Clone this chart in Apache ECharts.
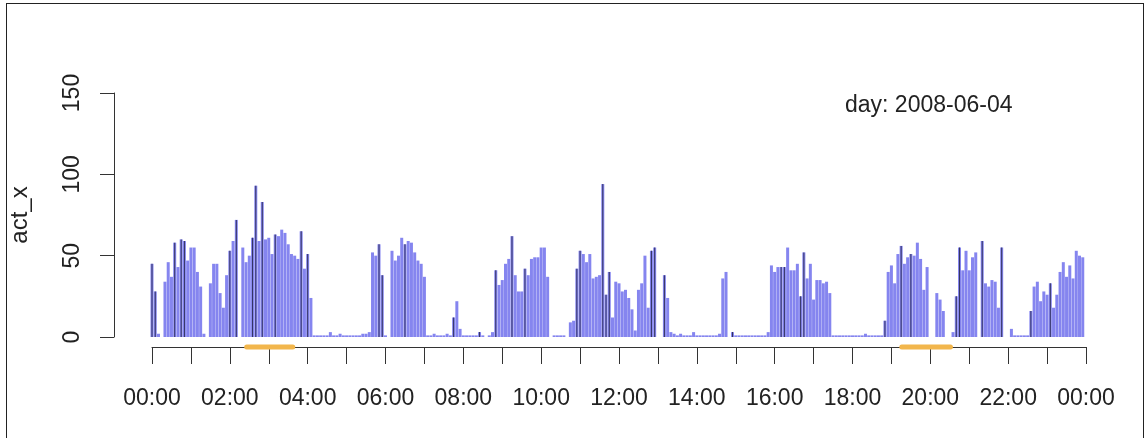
<!DOCTYPE html>
<html>
<head>
<meta charset="utf-8">
<script src="https://cdn.jsdelivr.net/npm/echarts@6/dist/echarts.min.js"></script>
<style>
  html, body { margin: 0; padding: 0; background: #fff; }
  #main { width: 1147px; height: 438px; }
  #frame {
    position: absolute; left: 6px; top: 3px; width: 1136px; height: 460px;
    border-top: 1px solid #222; border-left: 1px solid #222; border-right: 1px solid #222;
    pointer-events: none;
  }
</style>
</head>
<body>
<div id="main"></div>
<div id="frame"></div>
<script>
// act_x in 5-minute bins, one array per 6 hours
var act00to06 = [45, 28, 2, 0, 34, 46, 37, 58, 43, 60, 59, 47, 55, 55, 40, 31, 2, 0, 33, 45, 45, 27, 18, 38,
  53, 59, 72, 0, 55, 46, 50, 61, 93, 59, 83, 60, 61, 51, 63, 62, 66, 64, 57, 51, 50, 48, 65, 42,
  51, 24, 1, 1, 1, 1, 1, 3, 1, 1, 2, 1, 1, 1, 1, 1, 1, 2, 2, 3, 52, 50, 57, 38];
var act06to12 = [1, 0, 53, 47, 50, 61, 57, 59, 58, 52, 47, 45, 37, 1, 1, 2, 1, 1, 1, 2, 1, 12, 22, 5,
  1, 1, 1, 1, 1, 3, 1, 0, 1, 3, 41, 32, 35, 45, 48, 62, 38, 28, 28, 42, 38, 48, 49, 49,
  55, 55, 37, 0, 1, 1, 1, 1, 0, 9, 10, 42, 53, 51, 46, 51, 36, 37, 38, 94, 26, 40, 12, 34];
var act12to18 = [33, 28, 29, 24, 17, 4, 29, 33, 50, 18, 53, 55, 0, 0, 38, 24, 3, 2, 1, 2, 1, 1, 1, 3,
  1, 1, 1, 1, 1, 1, 1, 2, 36, 40, 0, 3, 1, 1, 1, 1, 1, 1, 1, 1, 1, 1, 3, 44,
  40, 43, 43, 43, 55, 41, 41, 45, 25, 52, 36, 45, 23, 35, 35, 33, 34, 27, 1, 1, 1, 1, 1, 1];
var act18to24 = [1, 1, 1, 1, 2, 1, 1, 1, 1, 1, 10, 40, 44, 33, 51, 56, 45, 49, 51, 50, 58, 48, 29, 43,
  0, 0, 27, 23, 16, 0, 0, 3, 25, 55, 41, 53, 41, 49, 52, 0, 59, 33, 31, 35, 34, 18, 55, 0,
  0, 5, 1, 1, 1, 1, 1, 16, 31, 34, 22, 28, 26, 33, 18, 26, 40, 46, 37, 44, 36, 53, 50, 49];
// bins drawn with a dark stroke
var darkBins = [0, 1, 7, 9, 10, 24, 26, 31, 32, 34, 38, 46, 48, 70, 71, 78, 93, 101, 106, 111, 115,
  131, 132, 139, 140, 141, 154, 155, 158, 179, 194, 195, 200, 201, 226, 231, 234, 248, 249,
  256, 262, 271, 277];
// highlighted periods (start, end) in hh:mm
var periods = [['02:26', '03:37'], ['19:16', '20:31']];
var dayLabel = '2008-06-04';

var binMinutes = 5;
var actValues = act00to06.concat(act06to12, act12to18, act18to24);

function toMinutes(s) {
  var p = s.split(':');
  return (+p[0]) * 60 + (+p[1]);
}
function pad(n) { return (n < 10 ? '0' : '') + n; }

var barData = actValues.map(function (v, i) { return [i * binMinutes, v]; });
var darkData = darkBins.map(function (i) { return [i * binMinutes, actValues[i]]; });

var font = "'Liberation Sans', Arial, sans-serif";
var axisColor = '#333';

var series = [
  {
    name: 'act_x',
    type: 'bar',
    data: barData,
    barWidth: 3,
    itemStyle: { color: '#8585ef' },
    silent: true
  },
  {
    name: 'act_x dark',
    type: 'bar',
    xAxisIndex: 1,
    data: darkData,
    barWidth: 1,
    itemStyle: { color: '#33335f' },
    silent: true
  }
];
periods.forEach(function (p) {
  series.push({
    type: 'line',
    data: [[toMinutes(p[0]), -6.1], [toMinutes(p[1]), -6.1]],
    symbol: 'none',
    clip: false,
    z: 5,
    lineStyle: { color: '#f2b64c', width: 5, cap: 'round' },
    silent: true
  });
});

var chart = echarts.init(document.getElementById('main'));
chart.setOption({
  animation: false,
  backgroundColor: '#fff',
  title: {
    text: 'day: ' + dayLabel,
    left: 845,
    top: 94,
    padding: 0,
    textStyle: { fontFamily: font, fontSize: 23, fontWeight: 'normal', color: '#222' }
  },
  grid: { left: 150, right: 61, top: 93, bottom: 101 },
  xAxis: [
    {
      type: 'value',
      min: 0,
      max: 1440,
      interval: 60,
      offset: 10,
      axisLine: { onZero: false, lineStyle: { color: axisColor, width: 1 } },
      axisTick: { length: 17, lineStyle: { color: axisColor } },
      splitLine: { show: false },
      axisLabel: {
        margin: 40,
        fontFamily: font,
        fontSize: 23,
        color: '#222',
        showMinLabel: true,
        showMaxLabel: true,
        formatter: function (v) {
          if (v % 120 !== 0) return '';
          return pad((v / 60) % 24) + ':00';
        }
      }
    },
    { type: 'value', min: 0, max: 1440, show: false }
  ],
  yAxis: {
    type: 'value',
    min: 0,
    max: 150,
    interval: 50,
    offset: 38,
    name: 'act_x',
    nameLocation: 'middle',
    nameRotate: 90,
    nameGap: 82,
    nameTextStyle: { fontFamily: font, fontSize: 24, color: '#222' },
    axisLine: { show: true, onZero: false, lineStyle: { color: axisColor, width: 1 } },
    axisTick: { show: true, length: 14, lineStyle: { color: axisColor } },
    splitLine: { show: false },
    axisLabel: { rotate: 90, margin: 30, fontFamily: font, fontSize: 23, color: '#222' }
  },
  series: series
});
</script>
</body>
</html>
